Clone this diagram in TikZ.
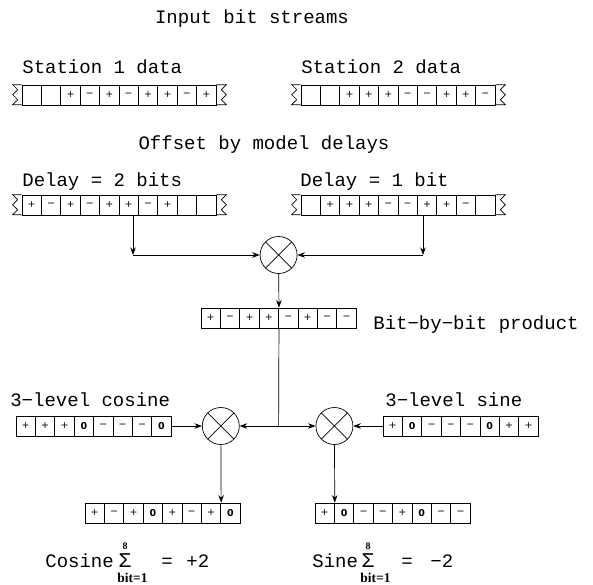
\documentclass[tikz,border=0pt]{standalone}
\usepackage{fontspec}
\usepackage{tikz}
\usetikzlibrary{arrows.meta, positioning, calc}
\newfontfamily\lblfont{Liberation Mono}
\newfontfamily\cellfont{DejaVu Sans}
\newfontfamily\limfont{Liberation Serif}

\begin{document}
\begin{tikzpicture}[
    x=1pt, y=1pt,
    line width=0.7pt,
    >={Stealth[length=7.5pt,width=5.5pt]},
    cell/.style={
        draw, rectangle, inner sep=0pt,
        minimum width=19.4pt, minimum height=20pt,
        font=\cellfont\fontsize{9.5}{9.5}\selectfont
    },
    txt/.style={inner sep=0pt, font=\lblfont\fontsize{19}{22}\selectfont},
    sig/.style={inner sep=0pt, font=\lblfont\fontsize{21}{21}\selectfont},
    lim/.style={inner sep=0pt, font=\limfont\bfseries\fontsize{13.5}{13.5}\selectfont},
    top/.style={inner sep=0pt, font=\limfont\bfseries\fontsize{10}{10}\selectfont},
    mult/.style={
        draw, circle, minimum size=37pt, inner sep=0pt,
        path picture={
            \draw (path picture bounding box.north west) -- (path picture bounding box.south east)
                  (path picture bounding box.north east) -- (path picture bounding box.south west);
        }
    }
]
    \useasboundingbox (0,0) rectangle (593,-584);

    % labels
    \node[txt, anchor=base] (title) at (252,-23) {Input bit streams};
    \node[txt, anchor=base west] (st1) at (22,-73) {Station 1 data};
    \node[txt, anchor=base west] (st2) at (301,-73) {Station 2 data};
    \node[txt, anchor=base] (offset) at (264,-149) {Offset by model delays};
    \node[txt, anchor=base west] (dl1) at (22,-186) {Delay = 2 bits};
    \node[txt, anchor=base west] (dl2) at (300,-186) {Delay = 1 bit};
    \node[txt, anchor=base west] (prodlbl) at (373,-329) {Bit−by−bit product};
    \node[txt, anchor=base west] (coslbl) at (10,-406) {3−level cosine};
    \node[txt, anchor=base west] (sinlbl) at (385,-406) {3−level sine};

    % bit streams
    \foreach \s [count=\i] in {{},{},+,−,+,−,+,+,−,+}
        \node[cell] (s1-\i) at ({22+(\i-0.5)*19.4},-95) {\s};
    \foreach \s [count=\i] in {{},{},+,+,+,−,−,+,+,−}
        \node[cell] (s2-\i) at ({301+(\i-0.5)*19.4},-95) {\s};
    \foreach \s [count=\i] in {+,−,+,−,+,+,−,+,{},{}}
        \node[cell] (d1-\i) at ({22+(\i-0.5)*19.4},-205) {\s};
    \foreach \s [count=\i] in {{},+,+,+,−,−,+,+,−,{}}
        \node[cell] (d2-\i) at ({301+(\i-0.5)*19.4},-205) {\s};
    \foreach \s [count=\i] in {+,−,+,+,−,+,−,−}
        \node[cell] (prod-\i) at ({201+(\i-0.5)*19.4},-318) {\s};
    \foreach \s [count=\i] in {+,+,+,{\bfseries 0},−,−,−,{\bfseries 0}}
        \node[cell] (cos-\i) at ({16+(\i-0.5)*19.4},-426) {\s};
    \foreach \s [count=\i] in {+,{\bfseries 0},−,−,−,{\bfseries 0},+,+}
        \node[cell] (sin-\i) at ({383+(\i-0.5)*19.4},-426) {\s};
    \foreach \s [count=\i] in {+,−,+,{\bfseries 0},+,−,+,{\bfseries 0}}
        \node[cell] (cosp-\i) at ({85+(\i-0.5)*19.4},-513) {\s};
    \foreach \s [count=\i] in {+,{\bfseries 0},−,−,+,{\bfseries 0},−,−}
        \node[cell] (sinp-\i) at ({315+(\i-0.5)*19.4},-513) {\s};

    % broken ends
    \foreach \t in {s1,s2,d1,d2} {
        \draw (\t-1.north west) -- ++(-9,0) -- ++(5,-5) -- ++(-5,-5) -- ++(5,-5) -- ++(-5,-5) -- ++(9,0);
        \draw (\t-10.north east) -- ++(10,0) -- ++(-5,-5) -- ++(5,-5) -- ++(-5,-5) -- ++(5,-5) -- ++(-10,0);
    }

    % multipliers
    \node[mult] (m1) at (278.6,-255) {};
    \node[mult] (mc) at (220.8,-426) {};
    \node[mult] (ms) at (334.4,-426) {};

    \coordinate (ca) at (133,-255);
    \coordinate (cb) at (423,-255);
    \coordinate (split) at (278.6,-426);

    \draw[->] (d1-6.south -| ca) -- (ca);
    \draw[->] (ca) -- (m1);
    \draw[->] (d2-7.south -| cb) -- (cb);
    \draw[->] (cb) -- (m1);
    \draw[->] (m1) -- (prod-4.north east);
    \draw (prod-4.south east) -- (split);
    \draw[->] (split) -- (mc);
    \draw[->] (split) -- (ms);
    \draw[->] (cos-8.east) -- (mc);
    \draw[->] (sin-1.west) -- (ms);
    \draw[->] (mc) -- (cosp-7.north east);
    \draw[->] (ms) -- (sinp-1.north east);

    % sums
    \node[txt, anchor=base west] (cosw) at (45,-567) {Cosine};
    \node[sig, anchor=base] (cossig) at (125,-567) {Σ};
    \node[top, anchor=base] (costop) at (125,-549) {8};
    \node[lim, anchor=base west] (cosbot) at (117,-582) {bit=1};
    \node[txt, anchor=base west] (coseq) at (161,-567) {=};
    \node[txt, anchor=base west] (cosval) at (186,-567) {+2};

    \node[txt, anchor=base west] (sinw) at (312,-567) {Sine};
    \node[sig, anchor=base] (sinsig) at (368,-567) {Σ};
    \node[top, anchor=base] (sintop) at (368,-549) {8};
    \node[lim, anchor=base west] (sinbot) at (360,-582) {bit=1};
    \node[txt, anchor=base west] (sineq) at (401,-567) {=};
    \node[txt, anchor=base west] (sinval) at (430,-567) {−2};
\end{tikzpicture}
\end{document}
